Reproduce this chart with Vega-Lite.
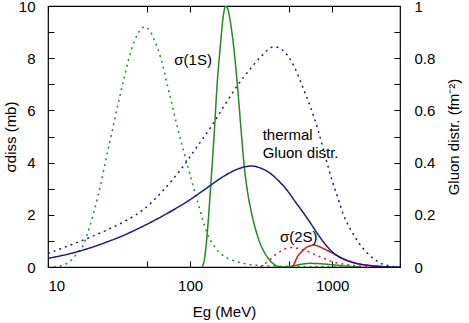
{
  "$schema": "https://vega.github.io/schema/vega-lite/v6.json",
  "width": 352,
  "height": 261,
  "autosize": "none",
  "padding": {"left": 48, "top": 6, "right": 69, "bottom": 56},
  "background": "white",
  "config": {
    "font": "Liberation Sans",
    "view": {"stroke": "black", "strokeWidth": 1.2},
    "axis": {
      "domain": false,
      "grid": false,
      "tickColor": "black",
      "tickWidth": 1,
      "tickSize": -6,
      "labelColor": "black",
      "labelFontSize": 15,
      "labelFont": "Liberation Sans",
      "titleFont": "Liberation Sans",
      "titleFontSize": 15,
      "titleFontWeight": "normal",
      "titleColor": "black"
    }
  },
  "datasets": {
    "sigma": [
      {"s": "g_dot", "E": 11, "v": 0}, {"s": "g_dot", "E": 12.8, "v": 0.08}, {"s": "g_dot", "E": 14, "v": 0.18}, {"s": "g_dot", "E": 16, "v": 0.52}, {"s": "g_dot", "E": 17.7, "v": 0.84}, {"s": "g_dot", "E": 19.8, "v": 1.6}, {"s": "g_dot", "E": 21.5, "v": 2.3}, {"s": "g_dot", "E": 23.3, "v": 3.08}, {"s": "g_dot", "E": 25.5, "v": 4.1}, {"s": "g_dot", "E": 28, "v": 5.1}, {"s": "g_dot", "E": 31, "v": 6.2}, {"s": "g_dot", "E": 34.5, "v": 7.3}, {"s": "g_dot", "E": 38.5, "v": 8.3}, {"s": "g_dot", "E": 43, "v": 8.95}, {"s": "g_dot", "E": 48, "v": 9.2}, {"s": "g_dot", "E": 52, "v": 9.05}, {"s": "g_dot", "E": 57, "v": 8.6}, {"s": "g_dot", "E": 63, "v": 7.9}, {"s": "g_dot", "E": 69, "v": 7.0}, {"s": "g_dot", "E": 81, "v": 5.4}, {"s": "g_dot", "E": 95, "v": 3.97}, {"s": "g_dot", "E": 112, "v": 2.57}, {"s": "g_dot", "E": 132, "v": 1.29}, {"s": "g_dot", "E": 150, "v": 0.75}, {"s": "g_dot", "E": 164, "v": 0.52}, {"s": "g_dot", "E": 190, "v": 0.3}, {"s": "g_dot", "E": 215, "v": 0.2}, {"s": "g_dot", "E": 260, "v": 0.1}, {"s": "g_dot", "E": 330, "v": 0.05}, {"s": "g_dot", "E": 450, "v": 0.03}, {"s": "g_dot", "E": 700, "v": 0.02}, {"s": "g_dot", "E": 1000, "v": 0.01}, {"s": "g_dot", "E": 1300, "v": 0},
      {"s": "g_sol", "E": 122, "v": 0}, {"s": "g_sol", "E": 127, "v": 0.4}, {"s": "g_sol", "E": 132, "v": 1.29}, {"s": "g_sol", "E": 140, "v": 3.2}, {"s": "g_sol", "E": 147, "v": 4.9}, {"s": "g_sol", "E": 155, "v": 7.0}, {"s": "g_sol", "E": 164, "v": 8.6}, {"s": "g_sol", "E": 171, "v": 9.6}, {"s": "g_sol", "E": 178, "v": 10.0}, {"s": "g_sol", "E": 185, "v": 9.85}, {"s": "g_sol", "E": 192, "v": 9.4}, {"s": "g_sol", "E": 200, "v": 8.7}, {"s": "g_sol", "E": 215, "v": 7.0}, {"s": "g_sol", "E": 228, "v": 5.3}, {"s": "g_sol", "E": 240, "v": 3.9}, {"s": "g_sol", "E": 255, "v": 2.8}, {"s": "g_sol", "E": 270, "v": 2.1}, {"s": "g_sol", "E": 305, "v": 1.03}, {"s": "g_sol", "E": 349, "v": 0.39}, {"s": "g_sol", "E": 380, "v": 0.15}, {"s": "g_sol", "E": 411, "v": 0.03}, {"s": "g_sol", "E": 450, "v": 0}, {"s": "g_sol", "E": 510, "v": 0.02}, {"s": "g_sol", "E": 600, "v": 0.1}, {"s": "g_sol", "E": 706, "v": 0.14}, {"s": "g_sol", "E": 850, "v": 0.12}, {"s": "g_sol", "E": 1030, "v": 0.08}, {"s": "g_sol", "E": 1300, "v": 0.03}, {"s": "g_sol", "E": 1590, "v": 0},
      {"s": "r_dot", "E": 312, "v": 0}, {"s": "r_dot", "E": 350, "v": 0.2}, {"s": "r_dot", "E": 411, "v": 0.52}, {"s": "r_dot", "E": 460, "v": 0.68}, {"s": "r_dot", "E": 510, "v": 0.75}, {"s": "r_dot", "E": 570, "v": 0.72}, {"s": "r_dot", "E": 632, "v": 0.65}, {"s": "r_dot", "E": 750, "v": 0.48}, {"s": "r_dot", "E": 877, "v": 0.33}, {"s": "r_dot", "E": 977, "v": 0.22}, {"s": "r_dot", "E": 1150, "v": 0.13}, {"s": "r_dot", "E": 1353, "v": 0.07}, {"s": "r_dot", "E": 1700, "v": 0.02}, {"s": "r_dot", "E": 2000, "v": 0},
      {"s": "r_sol", "E": 520, "v": 0}, {"s": "r_sol", "E": 538, "v": 0.1}, {"s": "r_sol", "E": 568, "v": 0.39}, {"s": "r_sol", "E": 600, "v": 0.55}, {"s": "r_sol", "E": 660, "v": 0.75}, {"s": "r_sol", "E": 746, "v": 0.84}, {"s": "r_sol", "E": 850, "v": 0.73}, {"s": "r_sol", "E": 1030, "v": 0.5}, {"s": "r_sol", "E": 1200, "v": 0.32}, {"s": "r_sol", "E": 1353, "v": 0.2}, {"s": "r_sol", "E": 1550, "v": 0.12}, {"s": "r_sol", "E": 1773, "v": 0.07}, {"s": "r_sol", "E": 2100, "v": 0.03}, {"s": "r_sol", "E": 2500, "v": 0}
    ],
    "gluon": [
      {"s": "b_dot", "E": 10, "g": 0.052}, {"s": "b_dot", "E": 15, "g": 0.088}, {"s": "b_dot", "E": 20, "g": 0.115}, {"s": "b_dot", "E": 26, "g": 0.142}, {"s": "b_dot", "E": 36, "g": 0.18}, {"s": "b_dot", "E": 47, "g": 0.22}, {"s": "b_dot", "E": 65, "g": 0.295}, {"s": "b_dot", "E": 85, "g": 0.37}, {"s": "b_dot", "E": 112, "g": 0.461}, {"s": "b_dot", "E": 143, "g": 0.544}, {"s": "b_dot", "E": 182, "g": 0.635}, {"s": "b_dot", "E": 215, "g": 0.695}, {"s": "b_dot", "E": 266, "g": 0.76}, {"s": "b_dot", "E": 320, "g": 0.81}, {"s": "b_dot", "E": 389, "g": 0.844}, {"s": "b_dot", "E": 450, "g": 0.83}, {"s": "b_dot", "E": 538, "g": 0.77}, {"s": "b_dot", "E": 620, "g": 0.69}, {"s": "b_dot", "E": 706, "g": 0.61}, {"s": "b_dot", "E": 800, "g": 0.52}, {"s": "b_dot", "E": 877, "g": 0.44}, {"s": "b_dot", "E": 1000, "g": 0.33}, {"s": "b_dot", "E": 1090, "g": 0.269}, {"s": "b_dot", "E": 1200, "g": 0.2}, {"s": "b_dot", "E": 1353, "g": 0.142}, {"s": "b_dot", "E": 1550, "g": 0.09}, {"s": "b_dot", "E": 1773, "g": 0.052}, {"s": "b_dot", "E": 2000, "g": 0.028}, {"s": "b_dot", "E": 2203, "g": 0.014}, {"s": "b_dot", "E": 2500, "g": 0.005}, {"s": "b_dot", "E": 2800, "g": 0.001}, {"s": "b_dot", "E": 3000, "g": 0},
      {"s": "b_sol", "E": 10, "g": 0.033}, {"s": "b_sol", "E": 15, "g": 0.054}, {"s": "b_sol", "E": 20, "g": 0.074}, {"s": "b_sol", "E": 26, "g": 0.096}, {"s": "b_sol", "E": 35, "g": 0.124}, {"s": "b_sol", "E": 45, "g": 0.152}, {"s": "b_sol", "E": 60, "g": 0.187}, {"s": "b_sol", "E": 77, "g": 0.22}, {"s": "b_sol", "E": 100, "g": 0.258}, {"s": "b_sol", "E": 120, "g": 0.288}, {"s": "b_sol", "E": 140, "g": 0.314}, {"s": "b_sol", "E": 164, "g": 0.34}, {"s": "b_sol", "E": 200, "g": 0.367}, {"s": "b_sol", "E": 240, "g": 0.383}, {"s": "b_sol", "E": 270, "g": 0.387}, {"s": "b_sol", "E": 310, "g": 0.38}, {"s": "b_sol", "E": 366, "g": 0.359}, {"s": "b_sol", "E": 420, "g": 0.33}, {"s": "b_sol", "E": 480, "g": 0.295}, {"s": "b_sol", "E": 550, "g": 0.25}, {"s": "b_sol", "E": 632, "g": 0.205}, {"s": "b_sol", "E": 700, "g": 0.17}, {"s": "b_sol", "E": 785, "g": 0.129}, {"s": "b_sol", "E": 900, "g": 0.085}, {"s": "b_sol", "E": 1030, "g": 0.052}, {"s": "b_sol", "E": 1200, "g": 0.03}, {"s": "b_sol", "E": 1353, "g": 0.02}, {"s": "b_sol", "E": 1600, "g": 0.01}, {"s": "b_sol", "E": 1970, "g": 0.004}, {"s": "b_sol", "E": 2400, "g": 0.001}, {"s": "b_sol", "E": 3000, "g": 0}
    ],
    "labelsC": [
      {"E": 105, "v": 7.93, "t": "σ(1S)"},
      {"E": 581, "v": 1.15, "t": "σ(2S)"}
    ],
    "labelsL": [
      {"E": 324, "v": 5.06, "t": "thermal"},
      {"E": 324, "v": 4.37, "t": "Gluon distr."}
    ]
  },
  "layer": [
    {
      "data": {"name": "sigma"},
      "mark": {"type": "line", "strokeWidth": 1.5, "interpolate": "monotone", "clip": true},
      "encoding": {
        "x": {
          "field": "E", "type": "quantitative",
          "scale": {"type": "log", "domain": [10, 3000], "nice": false},
          "axis": {
            "orient": "bottom",
            "values": [10, 50, 100, 500, 1000],
            "format": "d",
            "labelExpr": "datum.value == 50 || datum.value == 500 ? '' : datum.label",
            "labelPadding": 17,
            "title": "Eg (MeV)",
            "titlePadding": 11
          }
        },
        "y": {
          "field": "v", "type": "quantitative",
          "scale": {"domain": [0, 10], "nice": false, "zero": true},
          "axis": {
            "orient": "left",
            "values": [0, 1, 2, 3, 4, 5, 6, 7, 8, 9, 10],
            "format": "d",
            "labelExpr": "datum.value % 2 == 0 ? datum.label : ''",
            "labelPadding": 19,
            "title": "σdiss (mb)",
            "titlePadding": 0
          }
        },
        "color": {
          "field": "s", "type": "nominal", "legend": null,
          "scale": {"domain": ["g_dot", "g_sol", "r_dot", "r_sol"], "range": ["#228b22", "#228b22", "#d41a1a", "#d41a1a"]}
        },
        "strokeDash": {
          "field": "s", "type": "nominal", "legend": null,
          "scale": {"domain": ["g_dot", "g_sol", "r_dot", "r_sol"], "range": [[2, 4], [1, 0], [2, 4], [1, 0]]}
        }
      }
    },
    {
      "data": {"name": "gluon"},
      "mark": {"type": "line", "strokeWidth": 1.5, "interpolate": "monotone", "clip": true},
      "encoding": {
        "x": {
          "field": "E", "type": "quantitative",
          "scale": {"type": "log", "domain": [10, 3000], "nice": false},
          "axis": {
            "orient": "top",
            "values": [10, 50, 100, 500, 1000],
            "labels": false,
            "title": null
          }
        },
        "y": {
          "field": "g", "type": "quantitative",
          "scale": {"domain": [0, 1], "nice": false},
          "axis": {
            "orient": "right",
            "values": [0, 0.1, 0.2, 0.3, 0.4, 0.5, 0.6, 0.7, 0.8, 0.9, 1],
            "format": "~g",
            "labelExpr": "round(datum.value * 10) % 2 == 0 ? datum.label : ''",
            "labelPadding": 20,
            "title": "Gluon distr. (fm⁻²)",
            "titleAngle": 270,
            "titlePadding": 27
          }
        },
        "color": {
          "field": "s", "type": "nominal", "legend": null,
          "scale": {"domain": ["b_dot", "b_sol"], "range": ["#1a1a8c", "#1a1a8c"]}
        },
        "strokeDash": {
          "field": "s", "type": "nominal", "legend": null,
          "scale": {"domain": ["b_dot", "b_sol"], "range": [[2, 4], [1, 0]]}
        }
      }
    },
    {
      "data": {"name": "labelsC"},
      "mark": {"type": "text", "fontSize": 15, "font": "Liberation Sans", "align": "center", "baseline": "middle", "color": "black"},
      "encoding": {
        "x": {"field": "E", "type": "quantitative", "scale": {"type": "log", "domain": [10, 3000], "nice": false}, "axis": null},
        "y": {"field": "v", "type": "quantitative", "scale": {"domain": [0, 10], "nice": false}, "axis": null},
        "text": {"field": "t", "type": "nominal"}
      }
    },
    {
      "data": {"name": "labelsL"},
      "mark": {"type": "text", "fontSize": 15, "font": "Liberation Sans", "align": "left", "baseline": "middle", "color": "black"},
      "encoding": {
        "x": {"field": "E", "type": "quantitative", "scale": {"type": "log", "domain": [10, 3000], "nice": false}, "axis": null},
        "y": {"field": "v", "type": "quantitative", "scale": {"domain": [0, 10], "nice": false}, "axis": null},
        "text": {"field": "t", "type": "nominal"}
      }
    }
  ],
  "resolve": {"scale": {"y": "independent", "color": "independent", "strokeDash": "independent"}, "axis": {"x": "independent", "y": "independent"}}
}
